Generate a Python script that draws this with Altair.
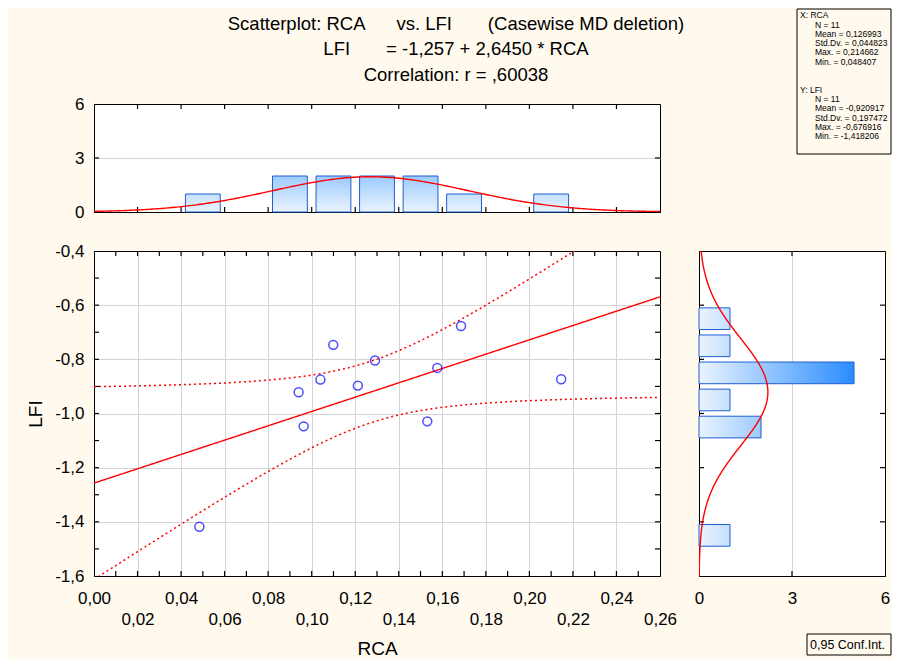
import altair as alt
import pandas as pd
import math

# ---------------- data ----------------
rca = [0.0484, 0.2146, 0.1686, 0.1099, 0.1291, 0.1577, 0.0940, 0.1040, 0.1212, 0.0963, 0.1531]
lfi = [-1.4182, -0.8736, -0.6769, -0.7466, -0.8045, -0.8317, -0.9217, -0.8748, -0.8970, -1.0475, -1.0290]

rca_bin_start = [0.04, 0.08, 0.10, 0.12, 0.14, 0.16, 0.20]
rca_bin_count = [1, 2, 2, 2, 2, 1, 1]
rca_bin_width = 0.02

lfi_bin_start = [-0.7, -0.8, -0.9, -1.0, -1.1, -1.5]
lfi_bin_count = [1, 1, 5, 1, 2, 1]
lfi_bin_width = 0.1

n_cases = 11
rca_mean, rca_sd = 0.126993, 0.044823
lfi_mean, lfi_sd = -0.920917, 0.197472
intercept, slope = -1.257, 2.6450
r_value = 0.60038
t_crit = 2.262157  # t(0.975, n-2)

x_ticks = [0.00, 0.02, 0.04, 0.06, 0.08, 0.10, 0.12, 0.14, 0.16, 0.18, 0.20, 0.22, 0.24, 0.26]
x_minor = [0.01, 0.02, 0.03, 0.04, 0.05, 0.06, 0.07, 0.08, 0.09, 0.10, 0.11, 0.12, 0.13,
           0.14, 0.15, 0.16, 0.17, 0.18, 0.19, 0.20, 0.21, 0.22, 0.23, 0.24, 0.25]
x_major_inner = [0.02, 0.04, 0.06, 0.08, 0.10, 0.12, 0.14, 0.16, 0.18, 0.20, 0.22, 0.24]
y_ticks = [-1.6, -1.4, -1.2, -1.0, -0.8, -0.6, -0.4]
y_minor = [-1.5, -1.4, -1.3, -1.2, -1.1, -1.0, -0.9, -0.8, -0.7, -0.6, -0.5]
y_major_inner = [-1.4, -1.2, -1.0, -0.8, -0.6]
count_ticks = [0, 3, 6]
count_inner = [3]

NB = "\u00a0"
title_lines = [
    "Scatterplot: RCA" + NB * 6 + "vs. LFI" + NB * 7 + "(Casewise MD deletion)",
    "LFI" + NB * 7 + "= -1,257 + 2,6450 * RCA",
    "Correlation: r = ,60038",
]
stats_rca_head = "X: RCA"
stats_rca = ["N = 11", "Mean = 0,126993", "Std.Dv. = 0,044823", "Max. = 0,214662", "Min. = 0,048407"]
stats_lfi_head = "Y: LFI"
stats_lfi = ["N = 11", "Mean = -0,920917", "Std.Dv. = 0,197472", "Max. = -0,676916", "Min. = -1,418206"]
ci_label = "0,95 Conf.Int."

# ---------------- styles ----------------
FONT = "Liberation Sans"
BG = "#FFF9EE"
RED = "#ff0000"
BLUE_PT = "#0000ff"
BAR_EDGE = "#1f5fd0"
LIGHT = (234, 244, 254)
DEEP = (42, 140, 255)
FULL_COUNT = 5.0
GRID = "#d4d4d4"
TICK_LEN = 5


def shade(c):
    f = min(c / FULL_COUNT, 1.0)
    rgb = [round(a + (b - a) * f) for a, b in zip(LIGHT, DEEP)]
    return "#%02x%02x%02x" % tuple(rgb)


LIGHT_HEX = "#%02x%02x%02x" % LIGHT

xs = alt.Scale(domain=[0, 0.26], nice=False, zero=False)
ys = alt.Scale(domain=[-1.6, -0.4], nice=False, zero=False)
cs = alt.Scale(domain=[0, 6], nice=False, zero=False)

MINUS = "\u2212"
x_lab = f"replace(replace(format(datum.value, '.2f'), '.', ','), '{MINUS}', '-')"
x_label_expr = f"(round(datum.value*100) % 4 == 0) ? {x_lab} : ['{NB}', {x_lab}]"
y_label_expr = f"replace(replace(format(datum.value, '.1f'), '.', ','), '{MINUS}', '-')"

x_edge = {"condition": {"test": "datum.value <= 0.0001 || datum.value >= 0.2599", "value": 0}, "value": 1}
y_edge = {"condition": {"test": "datum.value <= -1.5999 || datum.value >= -0.4001", "value": 0}, "value": 1}
c_edge = {"condition": {"test": "datum.value <= 0.001 || datum.value >= 5.999", "value": 0}, "value": 1}

one = pd.DataFrame({"k": [0]})


def vticks(values, scale, y_from, y_to):
    """inward tick marks along a horizontal edge"""
    return alt.Chart(pd.DataFrame({"tv": values})).mark_rule(color="black", strokeWidth=1.2).encode(
        x=alt.X("tv:Q", scale=scale), y=alt.value(y_from), y2=alt.value(y_to))


def hticks(values, scale, x_from, x_to):
    """inward tick marks along a vertical edge"""
    return alt.Chart(pd.DataFrame({"tv": values})).mark_rule(color="black", strokeWidth=1.2).encode(
        y=alt.Y("tv:Q", scale=scale), x=alt.value(x_from), x2=alt.value(x_to))


# ---------------- main scatter ----------------
PW, PH = 566, 325
pts = pd.DataFrame({"rca": rca, "lfi": lfi})

x_axis_main = alt.Axis(values=x_ticks, labelExpr=x_label_expr, labelPadding=14, labelLineHeight=21,
                       labelOverlap=False, labelFlush=False, title="RCA", titlePadding=12,
                       grid=True, gridOpacity=x_edge)
y_axis_main = alt.Axis(values=y_ticks, labelExpr=y_label_expr, labelPadding=10, labelOverlap=False,
                       labelFlush=False, title="LFI", titlePadding=9, grid=True, gridOpacity=y_edge)

s_res = math.sqrt((1 - r_value ** 2) * (n_cases - 1) * lfi_sd ** 2 / (n_cases - 2))
sxx = (n_cases - 1) * rca_sd ** 2

fit_base = alt.Chart(alt.sequence(0, 0.2602, 0.0005, as_="x")).transform_calculate(
    fit=f"{intercept} + {slope} * datum.x",
    se=f"{s_res} * sqrt(1/{n_cases} + pow(datum.x - {rca_mean}, 2) / {sxx})",
).transform_calculate(
    upper=f"datum.fit + {t_crit} * datum.se",
    lower=f"datum.fit - {t_crit} * datum.se",
)

grid_layer = alt.Chart(pts).mark_point(opacity=0).encode(
    x=alt.X("rca:Q", scale=xs, axis=x_axis_main),
    y=alt.Y("lfi:Q", scale=ys, axis=y_axis_main),
)
fit_line = fit_base.mark_line(color=RED, strokeWidth=1.4, clip=True).encode(
    x=alt.X("x:Q", scale=xs), y=alt.Y("fit:Q", scale=ys))
upper_line = fit_base.mark_line(color=RED, strokeWidth=1.5, strokeDash=[2, 3], clip=True).encode(
    x=alt.X("x:Q", scale=xs), y=alt.Y("upper:Q", scale=ys))
lower_line = fit_base.mark_line(color=RED, strokeWidth=1.5, strokeDash=[2, 3], clip=True).encode(
    x=alt.X("x:Q", scale=xs), y=alt.Y("lower:Q", scale=ys))
points = alt.Chart(pts).mark_point(shape="circle", filled=False, color=BLUE_PT, size=80, strokeWidth=1.5).encode(
    x=alt.X("rca:Q", scale=xs), y=alt.Y("lfi:Q", scale=ys))

scatter = alt.layer(
    grid_layer,
    vticks(x_minor, xs, PH - TICK_LEN, PH), vticks(x_minor, xs, 0, TICK_LEN),
    hticks(y_minor, ys, 0, TICK_LEN), hticks(y_minor, ys, PW - TICK_LEN, PW),
    fit_line, upper_line, lower_line, points,
).properties(width=PW, height=PH)

# ---------------- top histogram (RCA) ----------------
TH = 108
top_df = pd.DataFrame({"start": rca_bin_start, "n": rca_bin_count})
top_df["x0"] = top_df["start"] + 0.002
top_df["x1"] = top_df["start"] + rca_bin_width - 0.002
top_df["base"] = 0

top_axis_x = alt.Axis(labels=False, ticks=False, grid=False, title=None, domain=True)
top_axis_y = alt.Axis(values=count_ticks, labelPadding=10, labelFlush=False, labelOverlap=False,
                      grid=True, gridOpacity=c_edge, title=None)

top_layers = []
for i, c in enumerate(sorted(set(rca_bin_count))):
    grad = alt.Gradient(gradient="linear", x1=0, x2=0, y1=1, y2=0,
                        stops=[alt.GradientStop(color=LIGHT_HEX, offset=0),
                               alt.GradientStop(color=shade(c), offset=1)])
    enc_x = alt.X("x0:Q", scale=xs, axis=top_axis_x) if i == 0 else alt.X("x0:Q", scale=xs)
    enc_y = alt.Y("base:Q", scale=cs, axis=top_axis_y) if i == 0 else alt.Y("base:Q", scale=cs)
    top_layers.append(
        alt.Chart(top_df).transform_filter(f"datum.n == {c}")
        .mark_rect(fill=grad, stroke=BAR_EDGE, strokeWidth=1)
        .encode(x=enc_x, x2="x1:Q", y=enc_y, y2="n:Q")
    )

top_curve = alt.Chart(alt.sequence(0, 0.2602, 0.001, as_="x")).transform_calculate(
    dens=f"{n_cases} * {rca_bin_width} * exp(-0.5 * pow((datum.x - {rca_mean}) / {rca_sd}, 2)) / ({rca_sd} * sqrt(2 * PI))"
).mark_line(color=RED, strokeWidth=1.4, clip=True).encode(
    x=alt.X("x:Q", scale=xs), y=alt.Y("dens:Q", scale=cs))

title_text = alt.Chart(one).mark_text(align="center", baseline="top", font=FONT, fontSize=18.5,
                                      lineHeight=25.5, color="black").encode(
    x=alt.value(362), y=alt.value(-89.5), text=alt.value(title_lines))

top_hist = alt.layer(
    *top_layers,
    vticks(x_major_inner, xs, TH - TICK_LEN, TH), vticks(x_major_inner, xs, 0, TICK_LEN),
    hticks(count_inner, cs, 0, TICK_LEN), hticks(count_inner, cs, PW - TICK_LEN, PW),
    top_curve, title_text,
).properties(width=PW, height=TH)

# ---------------- stats box ----------------
RW = 186
LH = 9.3
TOP0 = -92.7


def stats_text(lines, x, y):
    return alt.Chart(one).mark_text(align="left", baseline="top", font=FONT, fontSize=8.5,
                                    lineHeight=LH, color="black").encode(
        x=alt.value(x), y=alt.value(y), text=alt.value(lines))


stats_box = alt.Chart(one).mark_rect(fill="transparent", stroke="black", strokeWidth=1).encode(
    x=alt.value(98), x2=alt.value(192), y=alt.value(-95), y2=alt.value(50))
stats = alt.layer(
    stats_box,
    stats_text(stats_rca_head, 101, TOP0),
    stats_text(stats_rca, 116, TOP0 + LH),
    stats_text(stats_lfi_head, 101, TOP0 + 8 * LH),
    stats_text(stats_lfi, 116, TOP0 + 9 * LH),
).properties(width=RW, height=TH, view=alt.ViewBackground(fill="transparent", stroke="transparent"))

# ---------------- right histogram (LFI) ----------------
right_df = pd.DataFrame({"start": lfi_bin_start, "n": lfi_bin_count})
right_df["y0"] = right_df["start"] + 0.01
right_df["y1"] = right_df["start"] + lfi_bin_width - 0.01
right_df["base"] = 0

right_axis_x = alt.Axis(values=count_ticks, labelPadding=14, labelFlush=False, labelOverlap=False,
                        grid=True, gridOpacity=c_edge, title=None)
right_axis_y = alt.Axis(labels=False, ticks=False, grid=False, title=None, domain=True)

right_layers = []
for i, c in enumerate(sorted(set(lfi_bin_count))):
    grad = alt.Gradient(gradient="linear", x1=0, x2=1, y1=0, y2=0,
                        stops=[alt.GradientStop(color=LIGHT_HEX, offset=0),
                               alt.GradientStop(color=shade(c), offset=1)])
    enc_x = alt.X("base:Q", scale=cs, axis=right_axis_x) if i == 0 else alt.X("base:Q", scale=cs)
    enc_y = alt.Y("y0:Q", scale=ys, axis=right_axis_y) if i == 0 else alt.Y("y0:Q", scale=ys)
    right_layers.append(
        alt.Chart(right_df).transform_filter(f"datum.n == {c}")
        .mark_rect(fill=grad, stroke=BAR_EDGE, strokeWidth=1)
        .encode(x=enc_x, x2="n:Q", y=enc_y, y2="y1:Q")
    )

right_curve = alt.Chart(alt.sequence(-1.6, -0.3995, 0.002, as_="y")).transform_calculate(
    dens=f"{n_cases} * {lfi_bin_width} * exp(-0.5 * pow((datum.y - ({lfi_mean})) / {lfi_sd}, 2)) / ({lfi_sd} * sqrt(2 * PI))"
).mark_line(color=RED, strokeWidth=1.4, clip=True).encode(
    x=alt.X("dens:Q", scale=cs), y=alt.Y("y:Q", scale=ys), order=alt.Order("y:Q"))

ci_box = alt.Chart(one).mark_rect(fill="transparent", stroke="black", strokeWidth=1).encode(
    x=alt.value(108), x2=alt.value(192), y=alt.value(383), y2=alt.value(404))
ci_text = alt.Chart(one).mark_text(align="left", baseline="middle", font=FONT, fontSize=12.5,
                                   color="black").encode(
    x=alt.value(111), y=alt.value(393.5), text=alt.value(ci_label))

right_hist = alt.layer(
    *right_layers,
    hticks(y_major_inner, ys, 0, TICK_LEN), hticks(y_major_inner, ys, RW - TICK_LEN, RW),
    vticks(count_inner, cs, 0, TICK_LEN), vticks(count_inner, cs, PH - TICK_LEN, PH),
    right_curve, ci_box, ci_text,
).properties(width=RW, height=PH)

# ---------------- assemble ----------------
chart = alt.concat(top_hist, stats, scatter, right_hist, columns=2, spacing=39,
                   bounds="flush", align="each").properties(
    background=BG,
    padding={"left": 18, "top": 0, "right": 0, "bottom": 0},
).configure_view(
    fill="white", stroke="black", strokeWidth=1
).configure_axis(
    labelFont=FONT, labelFontSize=17, labelColor="black",
    titleFont=FONT, titleFontSize=19, titleFontWeight="normal", titleColor="black",
    domainColor="black", domainWidth=1, gridColor=GRID, gridWidth=1,
    ticks=False, tickSize=0,
)

chart.save("out.html", embed_options={"renderer": "svg", "actions": False})
